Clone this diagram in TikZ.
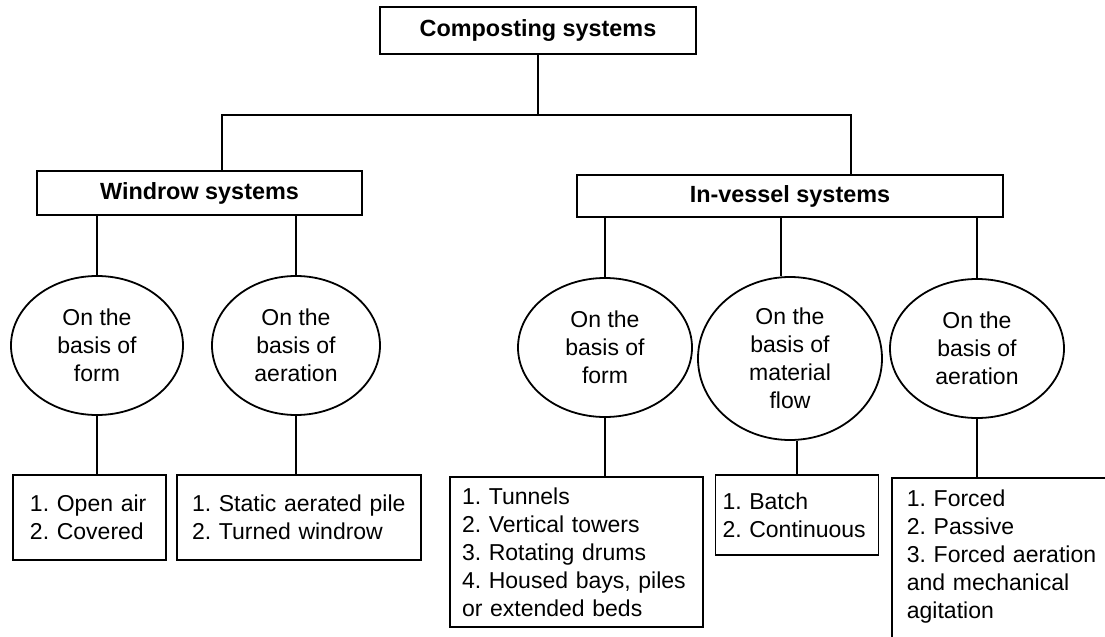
\documentclass[tikz,border=0pt]{standalone}
\usepackage{fontspec}
\setmainfont{Liberation Sans}
\usepackage{tikz}
\usetikzlibrary{positioning,shapes.geometric}
\frenchspacing
\hyphenpenalty=10000
\exhyphenpenalty=10000
\tikzset{
  head/.style={rectangle, draw=black, line width=0.9pt, fill=white, inner sep=0pt,
    align=center, font=\fontsize{11.7}{14}\selectfont\bfseries},
  basis/.style={ellipse, draw=black, line width=0.9pt, inner sep=0pt,
    align=center, font=\fontsize{11.5}{14}\selectfont},
  list/.style={rectangle, draw=black, line width=0.9pt, inner xsep=#1, inner ysep=5pt,
    align=left, font=\fontsize{11.5}{14}\selectfont},
  list/.default=7pt,
  link/.style={line width=0.9pt, draw=black},
}

\begin{document}
\begin{tikzpicture}[x=0.5pt, y=-0.5pt]
    \useasboundingbox (0,0) rectangle (1105,637);
    \clip (0,0) rectangle (1105,637);

    % system boxes
    \node[head, minimum width=158pt, minimum height=23.5pt] (comp) at (538,30.5) {Composting systems};
    \node[head, minimum width=162.5pt, minimum height=22pt] (wind) at (199.5,193) {Windrow systems};
    \node[head, minimum width=213pt, minimum height=21pt] (ivs) at (790,196) {In-vessel systems};

    % basis ellipses
    \node[basis, minimum width=86pt, minimum height=69.5pt] (wform) at (97,345.5) {On the\\ basis of\\ form};
    \node[basis, minimum width=84pt, minimum height=69.5pt] (waer) at (296,345.5) {On the\\ basis of\\ aeration};
    \node[basis, minimum width=87pt, minimum height=69.5pt] (vform) at (605,347.5) {On the\\ basis of\\ form};
    \node[basis, minimum width=92pt, minimum height=81.5pt] (vflow) at (790,358.5) {On the\\ basis of\\ material\\ flow};
    \node[basis, minimum width=87pt, minimum height=69.5pt] (vaer) at (977,348.5) {On the\\ basis of\\ aeration};

    % lists
    \node[list=8.5pt, text width=59.5pt, minimum height=42.5pt] (l1) at (89.5,517.5) {1. Open air\\ 2. Covered};
    \node[list=7.5pt, text width=107pt, minimum height=42.5pt] (l2) at (299,517.5) {1. Static aerated pile\\ 2. Turned windrow};
    \node[list=6pt, text width=114.5pt, minimum height=75pt] (l3) at (576.5,552) {1. Tunnels\\ 2. Vertical towers\\ 3. Rotating drums\\ 4. Housed bays, piles\\ or extended beds};
    \node[list=3.5pt, text width=74.5pt, minimum height=40pt] (l4) at (797,515) {1. Batch\\ 2. Continuous};
    \node[list=7.5pt, text width=105pt, inner ysep=6pt, anchor=north west] (l5) at (891,477) {1. Forced\\ 2. Passive\\ 3. Forced aeration\\ and mechanical\\ agitation\rule[-14pt]{0pt}{14pt}};

    \coordinate (hl) at (222,115);
    \coordinate (hr) at (851,115);

    \draw[link] (comp.south) -- (comp.south |- hl);
    \draw[link] (wind.north -| hl) -- (hl) -- (hr) -- (ivs.north -| hr);

    \draw[link] (wind.south -| wform.north) -- (wform.north);
    \draw[link] (wind.south -| waer.north) -- (waer.north);
    \draw[link] (ivs.south -| vform.north) -- (vform.north);
    \draw[link] ([xshift=-4.5pt]ivs.south -| vflow.north) -- ([xshift=-4.5pt]vflow.north);
    \draw[link] (ivs.south -| vaer.north) -- (vaer.north);

    \draw[link] (wform.south) -- (wform.south |- l1.north);
    \draw[link] (waer.south) -- (waer.south |- l2.north);
    \draw[link] (vform.south) -- (vform.south |- l3.north);
    \draw[link] (l4.north |- vflow.south) -- (l4.north);
    \draw[link] (vaer.south) -- (vaer.south |- l5.north);
  \end{tikzpicture}
\end{document}
